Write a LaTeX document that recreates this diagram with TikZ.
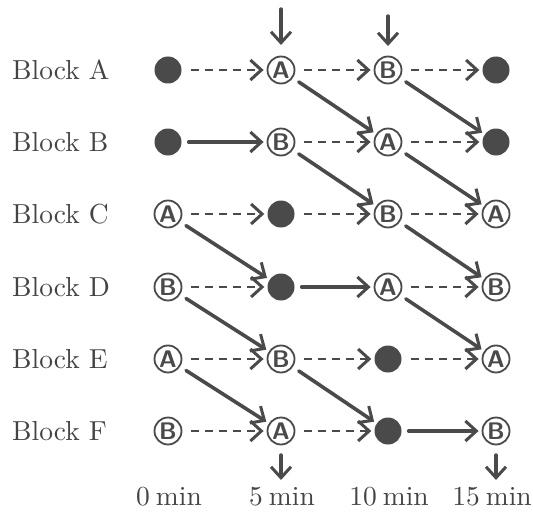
\documentclass[tikz,border=0pt]{standalone}
\usetikzlibrary{arrows.meta}
\definecolor{ink}{HTML}{4A4A4A}
\definecolor{txt}{HTML}{444444}
\newcommand{\bigtext}[1]{\scalebox{2.75}{#1}}
\begin{document}
\begin{tikzpicture}[x=1pt,y=-1pt,
  slot/.style={circle,draw=ink,line width=1.8pt,minimum size=27pt,inner sep=0pt,
    font=\fontsize{24}{24}\selectfont\sffamily\bfseries,text=ink},
  busy/.style={circle,fill=ink,minimum size=27pt,inner sep=0pt},
  lbl/.style={text=txt,inner sep=0pt},
  tipstyle/.style={-{Straight Barb[length=11pt,width=20pt,line width=3pt]}},
  move/.style={draw=ink,line width=3.6pt,tipstyle,shorten >=3pt,shorten <=7pt,line cap=round},
  wait/.style={draw=ink,line width=2.8pt,dash pattern=on 8pt off 6pt,tipstyle,shorten >=3pt,shorten <=9pt},
  cue/.style={draw=ink,line width=3.4pt,tipstyle,line cap=round}
]
\useasboundingbox (0,0) rectangle (533,519);

% row labels
\foreach \r/\y in {A/70,B/142,C/214,D/287,E/359,F/431}
  \node[lbl,anchor=west] (L\r) at (12,\y) {\bigtext{Block \r}};

% Row A
\node[busy] (a0) at (168,70) {};
\node[slot] (a1) at (281,70) {A};
\node[slot] (a2) at (388,70) {B};
\node[busy] (a3) at (496,70) {};
% Row B
\node[busy] (b0) at (168,142) {};
\node[slot] (b1) at (281,142) {B};
\node[slot] (b2) at (388,142) {A};
\node[busy] (b3) at (496,142) {};
% Row C
\node[slot] (c0) at (168,214) {A};
\node[busy] (c1) at (281,214) {};
\node[slot] (c2) at (388,214) {B};
\node[slot] (c3) at (496,214) {A};
% Row D
\node[slot] (d0) at (168,287) {B};
\node[busy] (d1) at (281,287) {};
\node[slot] (d2) at (388,287) {A};
\node[slot] (d3) at (496,287) {B};
% Row E
\node[slot] (e0) at (168,359) {A};
\node[slot] (e1) at (281,359) {B};
\node[busy] (e2) at (388,359) {};
\node[slot] (e3) at (496,359) {A};
% Row F
\node[slot] (f0) at (168,431) {B};
\node[slot] (f1) at (281,431) {A};
\node[busy] (f2) at (388,431) {};
\node[slot] (f3) at (496,431) {B};

% horizontal connectors
\draw[wait] (a0) -- (a1);
\draw[wait] (a1) -- (a2);
\draw[wait] (a2) -- (a3);
\draw[move] (b0) -- (b1);
\draw[wait] (b1) -- (b2);
\draw[wait] (b2) -- (b3);
\draw[wait] (c0) -- (c1);
\draw[wait] (c1) -- (c2);
\draw[wait] (c2) -- (c3);
\draw[wait] (d0) -- (d1);
\draw[move] (d1) -- (d2);
\draw[wait] (d2) -- (d3);
\draw[wait] (e0) -- (e1);
\draw[wait] (e1) -- (e2);
\draw[wait] (e2) -- (e3);
\draw[wait] (f0) -- (f1);
\draw[wait] (f1) -- (f2);
\draw[move] (f2) -- (f3);

% diagonal connectors
\draw[move] (a1) -- (b2);
\draw[move] (a2) -- (b3);
\draw[move] (b1) -- (c2);
\draw[move] (b2) -- (c3);
\draw[move] (c0) -- (d1);
\draw[move] (c2) -- (d3);
\draw[move] (d0) -- (e1);
\draw[move] (d2) -- (e3);
\draw[move] (e0) -- (f1);
\draw[move] (e1) -- (f2);

% arrivals and departures
\coordinate (in1) at (281,9);
\coordinate (in2) at (388,16);
\coordinate (at1) at (281,45);
\coordinate (at2) at (388,46);
\coordinate (out1) at (281,455);
\coordinate (out3) at (496,455);
\coordinate (end1) at (281,480);
\coordinate (end3) at (496,480);
\draw[cue] (in1) -- (at1);
\draw[cue] (in2) -- (at2);
\draw[cue] (out1) -- (end1);
\draw[cue] (out3) -- (end3);

% time labels
\node[lbl] (t0) at (169,497) {\bigtext{0\hspace{2.2pt}min}};
\node[lbl] (t1) at (282,497) {\bigtext{5\hspace{2.2pt}min}};
\node[lbl] (t2) at (389,497) {\bigtext{10\hspace{2.2pt}min}};
\node[lbl] (t3) at (492,497) {\bigtext{15\hspace{2.2pt}min}};
\end{tikzpicture}
\end{document}
